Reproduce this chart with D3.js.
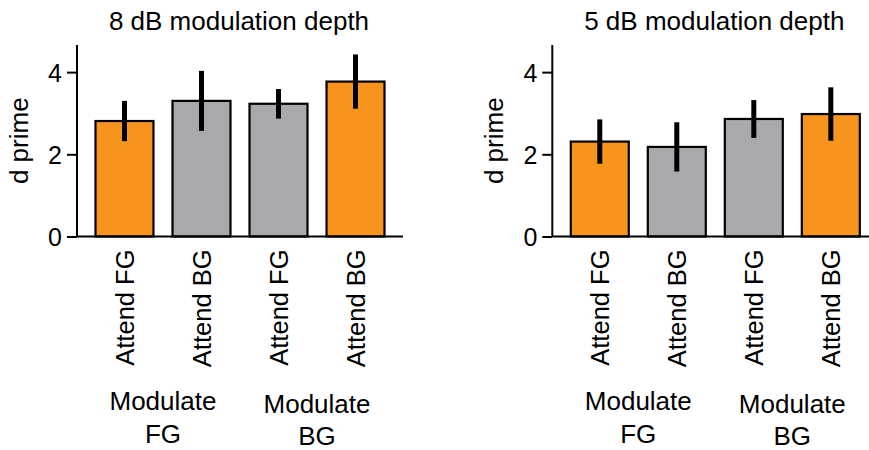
<!DOCTYPE html>
<html>
<head>
<meta charset="utf-8">
<script src="https://cdn.jsdelivr.net/npm/d3@7"></script>
<style>
  html, body { margin: 0; padding: 0; background: #fff; }
  svg { display: block; }
  text { font-family: "Liberation Sans", Arial, Helvetica, sans-serif; fill: #000; }
</style>
</head>
<body>
<svg id="chart" width="869" height="450"></svg>
<script>
// Conditions shown along each x axis
const conditions = ["Attend FG", "Attend BG", "Attend FG", "Attend BG"];
const groupLabels = [["Modulate", "FG"], ["Modulate", "BG"]];
const conditionColors = ["#F7941E", "#A7A9AC", "#A7A9AC", "#F7941E"];

// Panel titles
const panelTitles = ["8 dB modulation depth", "5 dB modulation depth"];

// Mean d' per condition and half-length of the error bars
const dprime8dB = [2.81, 3.30, 3.23, 3.77];
const error8dB  = [0.49, 0.73, 0.36, 0.66];
const dprime5dB = [2.31, 2.18, 2.86, 2.98];
const error5dB  = [0.54, 0.60, 0.46, 0.65];

const yTicks = [0, 2, 4];
const yMax = 4.66;

const svg = d3.select("#chart");

function drawPanel(left, title, means, errs) {
  const top = 45, bottom = 236.5, width = 326;
  const g = svg.append("g");

  const x = d3.scaleBand()
    .domain(d3.range(conditions.length))
    .range([left, left + width])
    .paddingInner(0.247)
    .paddingOuter(0.24);

  const y = d3.scaleLinear().domain([0, yMax]).range([bottom, top]);

  // bars
  g.selectAll("rect.bar")
    .data(means)
    .join("rect")
    .attr("class", "bar")
    .attr("x", (d, i) => x(i))
    .attr("width", x.bandwidth())
    .attr("y", d => y(d))
    .attr("height", d => y(0) - y(d))
    .attr("fill", (d, i) => conditionColors[i])
    .attr("stroke", "#000")
    .attr("stroke-width", 2.2);

  // error bars
  g.selectAll("line.err")
    .data(means)
    .join("line")
    .attr("class", "err")
    .attr("x1", (d, i) => x(i) + x.bandwidth() / 2)
    .attr("x2", (d, i) => x(i) + x.bandwidth() / 2)
    .attr("y1", (d, i) => y(d + errs[i]))
    .attr("y2", (d, i) => y(d - errs[i]))
    .attr("stroke", "#000")
    .attr("stroke-width", 5);

  // y axis
  const yAxis = g.append("g")
    .attr("transform", `translate(${left},0)`)
    .call(d3.axisLeft(y).tickValues(yTicks).tickSize(10).tickPadding(5).tickFormat(d3.format("d")));
  yAxis.select(".domain").attr("d", `M0,${top}V${bottom}`).attr("stroke-width", 2);
  yAxis.selectAll(".tick line").attr("stroke-width", 2);
  yAxis.selectAll(".tick text")
    .style("font-size", "25px")
    .attr("dy", "0.36em");

  // x axis (plain baseline)
  const xAxis = g.append("g")
    .attr("transform", `translate(0,${bottom})`)
    .call(d3.axisBottom(x).tickSize(0).tickFormat(""));
  xAxis.select(".domain").attr("d", `M${left},0H${left + width}`).attr("stroke-width", 2);

  // rotated condition labels
  g.selectAll("text.cond")
    .data(conditions)
    .join("text")
    .attr("class", "cond")
    .attr("transform", (d, i) => `translate(${x(i) + x.bandwidth() / 2},${bottom + 13}) rotate(-90)`)
    .attr("text-anchor", "end")
    .attr("dy", "0.36em")
    .style("font-size", "25.5px")
    .text(d => d);

  // group labels under each pair of bars
  groupLabels.forEach((lines, gi) => {
    const cx = (x(gi * 2) + x(gi * 2 + 1) + x.bandwidth()) / 2;
    const t = g.append("text")
      .attr("text-anchor", "middle")
      .attr("transform", `translate(${cx},${410 + gi * 2.5})`)
      .style("font-size", "26px");
    lines.forEach((s, li) => {
      t.append("tspan").attr("x", 0).attr("y", li * 32.5).text(s);
    });
  });

  // y axis title
  g.append("text")
    .attr("transform", `translate(${left - 49},${(top + bottom) / 2 + 0}) rotate(-90)`)
    .attr("text-anchor", "middle")
    .style("font-size", "26px")
    .text("d prime");

  // panel title
  g.append("text")
    .attr("x", left + width / 2 - 1)
    .attr("y", 30)
    .attr("text-anchor", "middle")
    .style("font-size", "26px")
    .text(title);
}

drawPanel(77, panelTitles[0], dprime8dB, error8dB);
drawPanel(552.3, panelTitles[1], dprime5dB, error5dB);
</script>
</body>
</html>
